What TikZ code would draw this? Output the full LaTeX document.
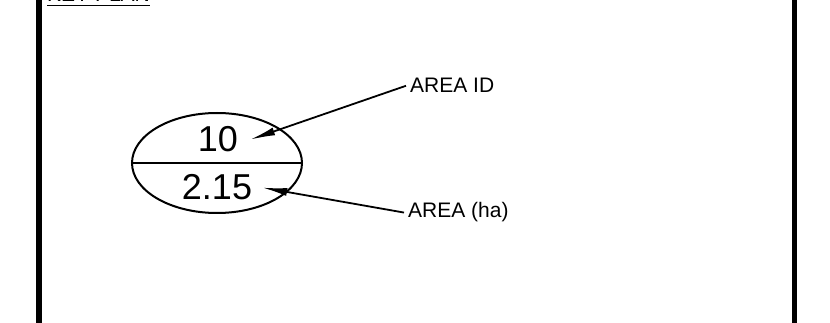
\documentclass[tikz,border=0pt]{standalone}
\usepackage{fontspec}
\setmainfont{Liberation Sans}
\usetikzlibrary{shapes.geometric,arrows.meta}
\begin{document}
\begin{tikzpicture}[x=1pt,y=-1pt,
  numtxt/.style={font=\fontsize{36}{40}\selectfont, inner ysep=0pt},
  lbltxt/.style={font=\fontsize{21}{24}\selectfont, inner xsep=4pt, inner ysep=0pt},
  leader/.style={line width=1.8pt, -{Latex[length=25pt,width=8pt]}},
  frameline/.style={line width=5.5pt}]
\useasboundingbox (0,0) rectangle (830,323);
\clip (0,0) rectangle (830,323);
% frame
\draw[frameline] (39,-5) -- (39,330);
\draw[frameline] (794.5,-5) -- (794.5,330);
% header
\node[lbltxt, anchor=base west, inner xsep=0pt] (key) at (47,2) {KEY PLAN};
\draw[line width=1.5pt] ([yshift=-3.5pt]key.base west) -- ([yshift=-3.5pt]key.base east);
% bubble
\node[draw, ellipse, line width=2pt, minimum width=170pt, minimum height=100pt, inner sep=0pt] (bubble) at (217,163) {};
\draw[line width=2pt] (bubble.west) -- (bubble.east);
\node[numtxt, anchor=base, inner xsep=12pt] (ten) at (218,152) {10};
\node[numtxt, anchor=base, inner xsep=10pt] (area) at (217,200) {2.15};
% labels
\node[lbltxt, anchor=base west] (idlbl) at (406,93) {AREA ID};
\node[lbltxt, anchor=base west] (halbl) at (404,218) {AREA (ha)};
\draw[leader] (idlbl.west) -- (ten.east);
\draw[leader] (halbl.west) -- (area.east);
\end{tikzpicture}
\end{document}
